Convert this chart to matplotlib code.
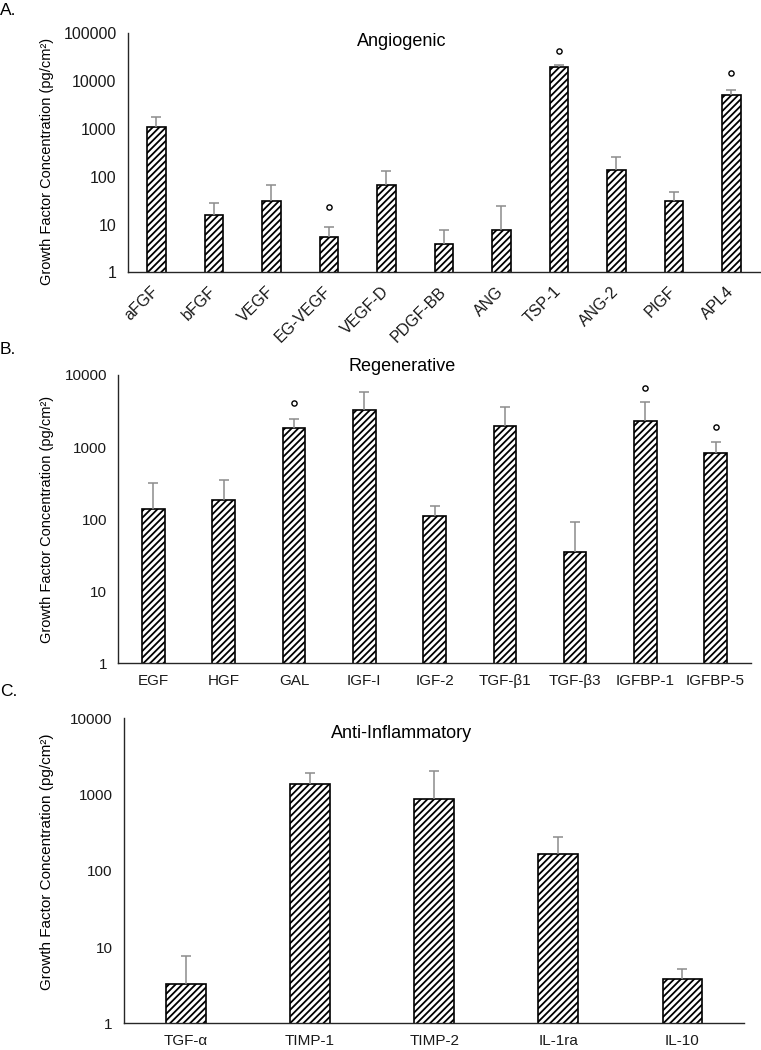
import matplotlib
matplotlib.use("Agg")
import matplotlib.pyplot as plt
import numpy as np

plt.rcParams.update({
    "font.family": ["Liberation Sans", "DejaVu Sans"],
    "hatch.linewidth": 1.3,
    "hatch.color": "black",
})

# ── Data ──────────────────────────────────────────────────────────────────────
ang_labels = ["aFGF", "bFGF", "VEGF", "EG-VEGF", "VEGF-D", "PDGF-BB", "ANG",
              "TSP-1", "ANG-2", "PlGF", "APL4"]
ang_mean = [1060, 15.5, 30.4, 5.6, 66.5, 3.9, 7.6, 19400, 139, 30.4, 5060]
ang_upper = [1740, 27.7, 65.6, 8.7, 130, 7.6, 24.3, 21300, 255, 48.2, 6340]
ang_sig = ["EG-VEGF", "TSP-1", "APL4"]
ang_sig_y = [22.8, 41700, 14300]

reg_labels = ["EGF", "HGF", "GAL", "IGF-I", "IGF-2", "TGF-β1", "TGF-β3",
              "IGFBP-1", "IGFBP-5"]
reg_mean = [137, 185, 1837, 3260, 111, 1958, 35.4, 2318, 818]
reg_upper = [318, 346, 2450, 5710, 150, 3540, 90, 4200, 1176]
reg_sig = ["GAL", "IGFBP-1", "IGFBP-5"]
reg_sig_y = [4020, 6560, 1915]

inf_labels = ["TGF-α", "TIMP-1", "TIMP-2", "IL-1ra", "IL-10"]
inf_mean = [3.3, 1362, 875, 166, 3.8]
inf_upper = [7.6, 1918, 2055, 280, 5.1]

YLABEL = "Growth Factor Concentration (pg/cm²)"
ERR_C = "#8c8c8c"

fig = plt.figure(figsize=(7.61, 10.5), dpi=100)


def panel(rect, labels, mean, upper, ymax, title, title_y, sig=(), sig_y=(),
          rotate=False, tick_fs=11, ylab_fs=10.5, ylab_y=0.5):
    ax = fig.add_axes(rect)
    x = np.arange(len(labels))
    ax.bar(x, mean, width=0.32, color="white", edgecolor="black",
           linewidth=1.2, hatch="/////", zorder=2)
    ax.vlines(x, mean, upper, color=ERR_C, linewidth=1.1, zorder=3)
    ax.plot(x, upper, linestyle="none", marker="_", markersize=7,
            markeredgewidth=1.1, color=ERR_C, zorder=3)
    if sig:
        sx = [labels.index(s) for s in sig]
        ax.scatter(sx, sig_y, s=14, facecolor="white", edgecolor="black",
                   linewidth=1.0, zorder=4)
    ax.set_yscale("log")
    ax.set_ylim(1, ymax)
    ax.set_xlim(-0.5, len(labels) - 0.5)
    ticks = [10 ** i for i in range(int(np.log10(ymax)) + 1)]
    ax.set_yticks(ticks)
    ax.set_yticklabels([str(t) for t in ticks])
    ax.yaxis.set_minor_locator(matplotlib.ticker.NullLocator())
    ax.set_xticks(x)
    if rotate:
        ax.set_xticklabels(labels, rotation=45, ha="right", va="center",
                           rotation_mode="anchor")
        ax.tick_params(axis="x", pad=12)
    else:
        ax.set_xticklabels(labels)
        ax.tick_params(axis="x", pad=8)
    ax.tick_params(length=0, labelsize=tick_fs, colors="#1a1a1a")
    ax.tick_params(axis="y", pad=8)
    for s in ["top", "right"]:
        ax.spines[s].set_visible(False)
    for s in ["left", "bottom"]:
        ax.spines[s].set_color("#262626")
        ax.spines[s].set_linewidth(1.0)
    ax.set_facecolor("none")
    fig.text(0.528, title_y, title, ha="center", va="center", fontsize=13)
    fig.text(0.0614, ylab_y, YLABEL, rotation=90, ha="center", va="center",
             fontsize=ylab_fs)
    return ax


panel([0.1678, 0.7405, 0.831, 0.2284], ang_labels, ang_mean, ang_upper, 1e5,
      "Angiogenic", 0.960, ang_sig, ang_sig_y, rotate=True, tick_fs=11.5,
      ylab_y=0.846)
panel([0.1555, 0.3683, 0.831, 0.2746], reg_labels, reg_mean, reg_upper, 1e4,
      "Regenerative", 0.6514, reg_sig, reg_sig_y, ylab_y=0.5057)
panel([0.1629, 0.0254, 0.8154, 0.2905], inf_labels, inf_mean, inf_upper, 1e4,
      "Anti-Inflammatory", 0.3019, tick_fs=11, ylab_fs=11, ylab_y=0.1795)

fig.text(0.0, 0.990, "A.", ha="left", va="center", fontsize=12.5)
fig.text(0.0, 0.667, "B.", ha="left", va="center", fontsize=12.5)
fig.text(0.0, 0.341, "C.", ha="left", va="center", fontsize=12.5)

fig.savefig("out.png", dpi=100, facecolor="white")
